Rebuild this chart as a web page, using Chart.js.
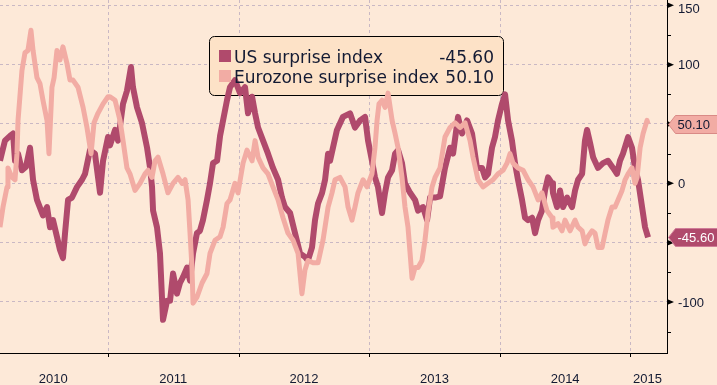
<!DOCTYPE html>
<html>
<head>
<meta charset="utf-8">
<script src="https://cdn.jsdelivr.net/npm/chart.js@4.4.0/dist/chart.umd.min.js"></script>
<style>
  html, body { margin: 0; padding: 0; background: #fde9d8; }
  #wrap { width: 717px; height: 385px; position: relative; }
</style>
</head>
<body>
<div id="wrap"><canvas id="surpriseChart"></canvas></div>
<script>
// surprise indices, x = decimal year
const seriesNames = ["US surprise index", "Eurozone surprise index"];
const lastLabels = ["-45.60", "50.10"];

const usYears = [
  2010.173, 2010.211, 2010.250, 2010.273, 2010.288, 2010.311, 2010.341, 2010.372, 2010.403, 2010.426,
  2010.456, 2010.502, 2010.533, 2010.556, 2010.579, 2010.609, 2010.632, 2010.655, 2010.671, 2010.694,
  2010.724, 2010.763, 2010.801, 2010.824, 2010.862, 2010.900, 2010.939, 2010.962, 2011.000, 2011.015,
  2011.054, 2011.077, 2011.115, 2011.145, 2011.176, 2011.191, 2011.222, 2011.260, 2011.299, 2011.322,
  2011.337, 2011.345, 2011.375, 2011.398, 2011.421, 2011.452, 2011.475, 2011.498, 2011.528, 2011.551,
  2011.574, 2011.605, 2011.628, 2011.651, 2011.681, 2011.704, 2011.727, 2011.758, 2011.781, 2011.804,
  2011.835, 2011.858, 2011.881, 2011.911, 2011.934, 2011.972, 2012.011, 2012.049, 2012.072, 2012.103,
  2012.126, 2012.149, 2012.187, 2012.225, 2012.263, 2012.302, 2012.332, 2012.355, 2012.394, 2012.432,
  2012.470, 2012.508, 2012.531, 2012.562, 2012.585, 2012.608, 2012.639, 2012.662, 2012.685, 2012.700,
  2012.753, 2012.799, 2012.853, 2012.891, 2012.930, 2012.968, 2012.991, 2013.021, 2013.044, 2013.067,
  2013.098, 2013.121, 2013.144, 2013.175, 2013.198, 2013.221, 2013.251, 2013.274, 2013.313, 2013.351,
  2013.374, 2013.412, 2013.443, 2013.466, 2013.504, 2013.542, 2013.580, 2013.619, 2013.642, 2013.680,
  2013.711, 2013.749, 2013.787, 2013.825, 2013.864, 2013.887, 2013.910, 2013.940, 2013.963, 2013.986,
  2014.017, 2014.040, 2014.063, 2014.093, 2014.116, 2014.139, 2014.170, 2014.193, 2014.216, 2014.247,
  2014.270, 2014.293, 2014.323, 2014.346, 2014.369, 2014.400, 2014.407, 2014.438, 2014.461, 2014.484,
  2014.515, 2014.553, 2014.576, 2014.599, 2014.630, 2014.652, 2014.668, 2014.691, 2014.714, 2014.752,
  2014.790, 2014.828, 2014.867, 2014.897, 2014.920, 2014.943, 2014.982, 2015.012, 2015.035, 2015.058,
  2015.089, 2015.112, 2015.135
];
const usValues = [
  19, 36, 40, 42, 19, 25, 11, 14, 30, 3,
  -14, -27, -20, -37, -31, -45, -56, -63, -42, -14,
  -12, -3, 3, 8, 28, 25, -8, 19, 39, 32,
  45, 36, 67, 78, 98, 81, 64, 51, 30, 13,
  -3, -23, -37, -59, -115, -99, -99, -76, -93, -84,
  -79, -71, -82, -59, -42, -40, -31, -14, 0, 17,
  19, 40, 53, 70, 81, 87, 76, 81, 59, 73,
  59, 47, 36, 25, 13, 3, -12, -20, -25, -42,
  -59, -62, -65, -54, -31, -17, -8, 3, 25, 19,
  45, 56, 59, 47, 53, 56, 36, 19, 5, -3,
  -25, -8, 5, 11, 25, 28, 17, 0, -8, -14,
  -23, -20, -31, -12, -12, -11, 13, 30, 25, 56,
  42, 53, 42, 13, 13, 5, 8, 30, 39, 53,
  67, 75, 53, 36, 17, 3, -14, -29, -31, -29,
  -42, -31, -23, -6, 5, 0, -8, -20, -6, -20,
  -12, -20, -6, 3, 8, 36, 45, 34, 22, 13,
  17, 19, 13, 8, 19, 25, 39, 30, 13, 3,
  -20, -37, -45.6
];

const ezYears = [
  2010.173, 2010.196, 2010.227, 2010.234, 2010.265, 2010.288, 2010.303, 2010.311, 2010.341, 2010.364,
  2010.387, 2010.410, 2010.426, 2010.456, 2010.479, 2010.502, 2010.533, 2010.548, 2010.571, 2010.587,
  2010.609, 2010.632, 2010.655, 2010.686, 2010.709, 2010.732, 2010.770, 2010.809, 2010.839, 2010.870,
  2010.893, 2010.923, 2010.962, 2011.000, 2011.015, 2011.054, 2011.092, 2011.115, 2011.145, 2011.168,
  2011.207, 2011.245, 2011.283, 2011.306, 2011.337, 2011.360, 2011.383, 2011.421, 2011.459, 2011.498,
  2011.536, 2011.567, 2011.590, 2011.613, 2011.628, 2011.643, 2011.651, 2011.681, 2011.720, 2011.758,
  2011.781, 2011.819, 2011.858, 2011.881, 2011.911, 2011.934, 2011.972, 2011.995, 2012.034, 2012.064,
  2012.103, 2012.126, 2012.149, 2012.187, 2012.225, 2012.263, 2012.302, 2012.340, 2012.378, 2012.417,
  2012.455, 2012.485, 2012.508, 2012.531, 2012.570, 2012.608, 2012.646, 2012.685, 2012.715, 2012.738,
  2012.776, 2012.815, 2012.838, 2012.868, 2012.891, 2012.914, 2012.953, 2012.983, 2013.021, 2013.044,
  2013.060, 2013.075, 2013.098, 2013.121, 2013.144, 2013.175, 2013.198, 2013.221, 2013.251, 2013.274,
  2013.297, 2013.313, 2013.328, 2013.351, 2013.374, 2013.404, 2013.427, 2013.450, 2013.481, 2013.504,
  2013.542, 2013.580, 2013.619, 2013.657, 2013.695, 2013.734, 2013.772, 2013.795, 2013.833, 2013.871,
  2013.910, 2013.948, 2013.986, 2014.025, 2014.055, 2014.078, 2014.101, 2014.139, 2014.178, 2014.216,
  2014.254, 2014.293, 2014.323, 2014.361, 2014.400, 2014.407, 2014.446, 2014.476, 2014.499, 2014.538,
  2014.576, 2014.599, 2014.630, 2014.652, 2014.675, 2014.706, 2014.729, 2014.752, 2014.783, 2014.806,
  2014.828, 2014.859, 2014.882, 2014.905, 2014.936, 2014.959, 2014.982, 2015.012, 2015.035, 2015.051,
  2015.074, 2015.097, 2015.127, 2015.135
];
const ezValues = [
  -37, -20, -3, 13, 5, 3, 25, 53, 95, 110,
  112, 129, 112, 89, 84, 70, 53, 25, 81, 89,
  112, 104, 115, 101, 87, 87, 81, 64, 47, 25,
  51, 59, 67, 73, 73, 70, 53, 36, 13, 8,
  -6, 0, 8, 11, 5, 19, 22, 8, -8, 0,
  5, 0, 3, -14, -42, -71, -101, -96, -84, -76,
  -59, -48, -45, -37, -17, -14, 0, -8, 17, 28,
  19, 36, 22, 13, 8, -3, -14, -29, -42, -48,
  -59, -93, -73, -65, -67, -67, -48, -20, -8, 3,
  5, -3, -20, -31, -20, -8, 3, -3, 8, 30,
  53, 67, 70, 64, 76, 53, 42, 30, 5, -20,
  -37, -59, -80, -71, -71, -65, -48, -25, -3, 5,
  13, 39, 47, 51, 47, 51, 36, 22, 3, -3,
  0, 3, 8, 11, 17, 25, 17, 13, 11, 3,
  -3, -14, -8, -23, -29, -37, -34, -40, -31, -40,
  -31, -37, -40, -51, -45, -40, -42, -54, -54, -42,
  -31, -20, -20, -14, -6, 3, 8, 13, 0, 5,
  30, 42, 53, 50.1
];

// axes
const yearLabels = ["2010", "2011", "2012", "2013", "2014", "2015"];
const yearLabelPos = [2010.58, 2011.5, 2012.5, 2013.5, 2014.5, 2015.13];
const yearBreaks = [2011, 2012, 2013, 2014, 2015];
const yTicks = [-100, -50, 0, 50, 100, 150];
const yMinorTicks = [-125, -75, -25, 25, 75, 125];

const usColor = "#b04a6c";
const ezColor = "#f2aca4";
const gridColor = "#c9b8c4";
const textColor = "#131a33";
const axisFont = { family: "Liberation Sans", size: 13 };

function pentagonTag(ctx, left, right, yPx, text, fill, stroke, color) {
  const h = 18, tip = 7;
  ctx.beginPath();
  ctx.moveTo(left, yPx);
  ctx.lineTo(left + tip, yPx - h / 2);
  ctx.lineTo(right, yPx - h / 2);
  ctx.lineTo(right, yPx + h / 2);
  ctx.lineTo(left + tip, yPx + h / 2);
  ctx.closePath();
  ctx.fillStyle = fill;
  ctx.fill();
  ctx.strokeStyle = stroke;
  ctx.lineWidth = 1;
  ctx.stroke();
  ctx.fillStyle = color;
  ctx.font = "13px 'Liberation Sans'";
  ctx.textAlign = "left";
  ctx.textBaseline = "middle";
  ctx.fillText(text, left + 9, yPx + 1);
}

const decor = {
  id: "decor",
  beforeDraw(chart) {
    const ctx = chart.ctx;
    ctx.save();
    ctx.fillStyle = "#fde9d8";
    ctx.fillRect(0, 0, chart.width, chart.height);
    ctx.restore();
  },
  beforeDatasetsDraw(chart) {
    const { ctx, chartArea: a, scales: { x } } = chart;
    ctx.save();
    // year separators
    ctx.strokeStyle = gridColor;
    ctx.lineWidth = 1;
    ctx.setLineDash([3, 3]);
    yearBreaks.forEach((v) => {
      const px = Math.round(x.getPixelForValue(v)) + 0.5;
      ctx.beginPath();
      ctx.moveTo(px, a.top);
      ctx.lineTo(px, a.bottom);
      ctx.stroke();
    });
    ctx.setLineDash([]);
    ctx.strokeStyle = "#000";
    yearBreaks.forEach((v) => {
      const px = Math.round(x.getPixelForValue(v)) + 0.5;
      ctx.beginPath();
      ctx.moveTo(px, a.bottom);
      ctx.lineTo(px, a.bottom + 4);
      ctx.stroke();
    });
    // legend box
    ctx.beginPath();
    ctx.roundRect(209.5, 36.5, 294, 59, 5);
    ctx.fillStyle = "#fde2c7";
    ctx.fill();
    ctx.strokeStyle = "#000";
    ctx.stroke();
    ctx.restore();
  },
  afterDatasetsDraw(chart) {
    const ctx = chart.ctx;
    ctx.save();
    const colors = [usColor, ezColor];
    ctx.font = "17px 'DejaVu Sans'";
    ctx.textBaseline = "alphabetic";
    seriesNames.forEach((name, i) => {
      const base = 62.5 + i * 20;
      ctx.fillStyle = colors[i];
      ctx.fillRect(219, base - 12.5, 12, 12);
      ctx.fillStyle = textColor;
      ctx.textAlign = "left";
      ctx.fillText(name, 234, base);
      ctx.textAlign = "right";
      ctx.fillText(lastLabels[i], 494, base);
    });
    ctx.restore();
  },
  afterDraw(chart) {
    const { ctx, chartArea: a, scales: { y } } = chart;
    ctx.save();
    // y tick labels, kept inside the canvas at the top
    ctx.fillStyle = textColor;
    ctx.font = "13px 'Liberation Sans'";
    ctx.textAlign = "left";
    ctx.textBaseline = "middle";
    yTicks.forEach((v) => {
      const py = Math.max(y.getPixelForValue(v) + 1, 9);
      ctx.fillText(String(v), a.right + 11, py);
    });
    ctx.fillStyle = "#000";
    yTicks.forEach((v) => {
      const py = y.getPixelForValue(v);
      ctx.beginPath();
      ctx.moveTo(a.right, py - 3);
      ctx.lineTo(a.right + 7, py);
      ctx.lineTo(a.right, py + 3);
      ctx.closePath();
      ctx.fill();
    });
    ctx.strokeStyle = "#000";
    ctx.lineWidth = 1;
    yMinorTicks.forEach((v) => {
      const py = Math.round(y.getPixelForValue(v)) + 0.5;
      ctx.beginPath();
      ctx.moveTo(a.right, py);
      ctx.lineTo(a.right + 4, py);
      ctx.stroke();
    });
    // last-value tags
    const ezLast = ezValues[ezValues.length - 1];
    const usLast = usValues[usValues.length - 1];
    pentagonTag(ctx, a.right + 1.5, chart.width + 2, Math.round(y.getPixelForValue(ezLast)) + 0.5,
      lastLabels[1], ezColor, "#d98a86", textColor);
    pentagonTag(ctx, a.right + 1.5, chart.width + 2, Math.round(y.getPixelForValue(usLast)) + 0.5,
      lastLabels[0], usColor, "#d07c98", "#ffffff");
    ctx.restore();
  }
};

const surpriseChart = new Chart(document.getElementById("surpriseChart"), {
  type: "line",
  data: {
    datasets: [
      {
        label: seriesNames[0],
        data: usYears.map((x, i) => ({ x: x, y: usValues[i] })),
        borderColor: usColor,
        borderWidth: 6,
        pointRadius: 0,
        tension: 0,
        borderJoinStyle: "round",
        order: 2,
      },
      {
        label: seriesNames[1],
        data: ezYears.map((x, i) => ({ x: x, y: ezValues[i] })),
        borderColor: ezColor,
        borderWidth: 5,
        pointRadius: 0,
        tension: 0,
        borderJoinStyle: "round",
        order: 1,
      },
    ],
  },
  options: {
    responsive: true,
    maintainAspectRatio: false,
    animation: false,
    layout: { padding: 0, autoPadding: false },
    plugins: {
      legend: { display: false },
      tooltip: { enabled: false },
    },
    scales: {
      x: {
        type: "linear",
        min: 2010.173,
        max: 2015.28,
        afterFit: (s) => { s.height = 32; s.paddingLeft = 0; s.paddingRight = 0; },
        afterBuildTicks: (s) => { s.ticks = yearLabelPos.map((v) => ({ value: v })); },
        ticks: {
          autoSkip: false,
          maxRotation: 0,
          padding: 19,
          color: textColor,
          font: axisFont,
          callback: (v, i) => yearLabels[i],
        },
        grid: { display: false, drawTicks: false },
        border: { display: true, color: "#000", width: 1 },
      },
      y: {
        position: "right",
        min: -143,
        max: 154.5,
        afterFit: (s) => { s.width = 50; s.paddingTop = 0; s.paddingBottom = 0; },
        afterBuildTicks: (s) => { s.ticks = yTicks.map((v) => ({ value: v })); },
        ticks: { display: false },
        grid: { color: gridColor, lineWidth: 1, drawTicks: false },
        border: { display: true, color: "#000", width: 1, dash: [3, 3] },
      },
    },
  },
  plugins: [decor],
});
</script>
</body>
</html>
